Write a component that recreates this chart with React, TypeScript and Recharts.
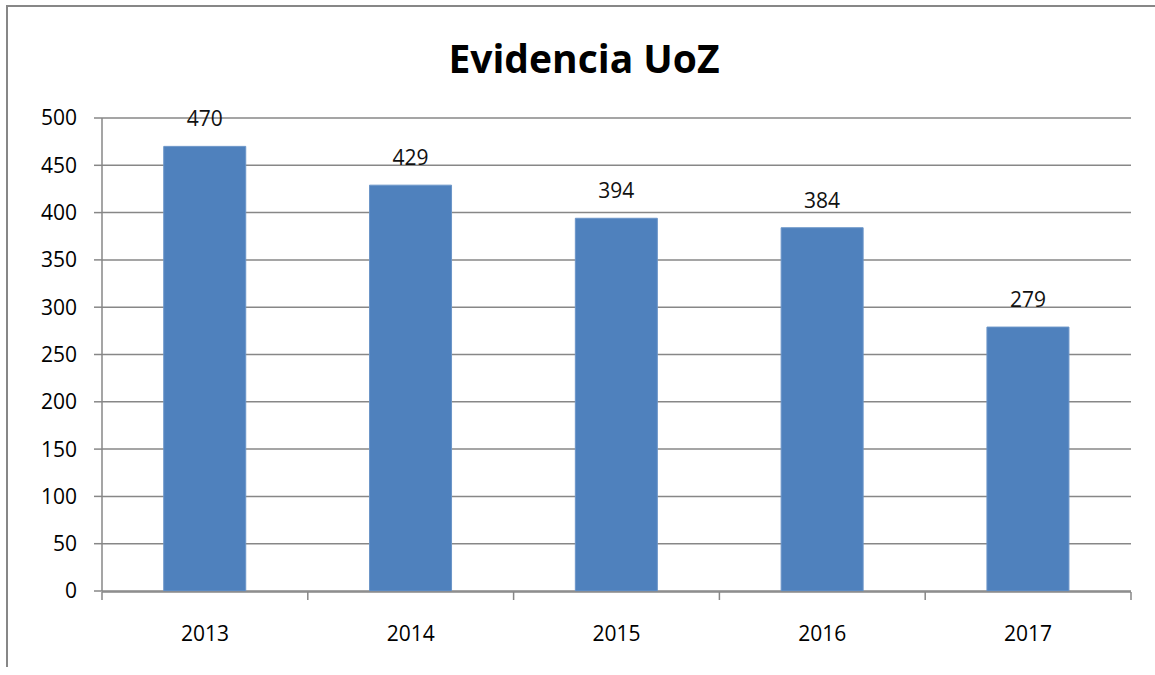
import React from 'react';
import { BarChart, Bar, XAxis, YAxis, CartesianGrid, LabelList } from 'recharts';

const years = ['2013', '2014', '2015', '2016', '2017'];
const evidencia = [470, 429, 394, 384, 279];
const yTicks = [0, 50, 100, 150, 200, 250, 300, 350, 400, 450, 500];

const data = years.map((year, i) => ({ year, value: evidencia[i], edge: i }));
// category boundaries for the Excel-style tick marks between bars
const edgeTicks = years.map((_, i) => i).concat(years.length);

const FONT = '"Open Sans", "Noto Sans", sans-serif';
const GRID = '#878787';

const NoLabel = () => <g />;

export default function App() {
  return (
    <div style={{ position: 'relative', width: 1155, height: 675, background: '#fff', fontFamily: FONT }}>
      <style>{'body{margin:0;overflow:hidden}'}</style>
      {/* chart frame, only left and top edges show in the crop */}
      <div
        style={{
          position: 'absolute',
          left: 6,
          top: 5,
          width: 1160,
          height: 660,
          borderLeft: `2px solid ${GRID}`,
          borderTop: `2px solid ${GRID}`,
        }}
      />
      <div
        style={{
          position: 'absolute',
          left: 0,
          top: 38,
          width: 1168,
          textAlign: 'center',
          fontSize: 39,
          lineHeight: '40px',
          fontWeight: 700,
          color: '#000',
        }}
      >
        Evidencia UoZ
      </div>
      <div style={{ position: 'absolute', left: 0, top: 0 }}>
        <BarChart
          width={1155}
          height={675}
          data={data}
          margin={{ top: 118, right: 24, bottom: 82, left: 8 }}
          barCategoryGap="30%"
        >
          <CartesianGrid horizontal vertical={false} stroke={GRID} strokeWidth={1.5} />
          <XAxis
            xAxisId="edges"
            type="number"
            dataKey="edge"
            domain={[0, years.length]}
            ticks={edgeTicks}
            interval={0}
            height={1}
            tick={<NoLabel />}
            tickSize={8}
            axisLine={{ stroke: GRID, strokeWidth: 1.5 }}
            tickLine={{ stroke: GRID, strokeWidth: 1.5 }}
            allowDataOverflow
          />
          <XAxis
            dataKey="year"
            height={1}
            axisLine={false}
            tickLine={false}
            tickSize={0}
            tickMargin={35}
            tick={{ fill: '#000', fontSize: 21, fontFamily: FONT }}
          />
          <YAxis
            width={94}
            domain={[0, 500]}
            ticks={yTicks}
            interval={0}
            tickSize={8}
            tickMargin={17}
            axisLine={{ stroke: GRID, strokeWidth: 1.5 }}
            tickLine={{ stroke: GRID, strokeWidth: 1.5 }}
            tick={{ fill: '#000', fontSize: 21, fontFamily: FONT }}
          />
          <Bar dataKey="value" fill="#4F81BD" stroke="#6b95c8" strokeWidth={1} isAnimationActive={false}>
            <LabelList dataKey="value" position="top" offset={20} fill="#111" fontSize={21} fontFamily={FONT} />
          </Bar>
        </BarChart>
      </div>
    </div>
  );
}
